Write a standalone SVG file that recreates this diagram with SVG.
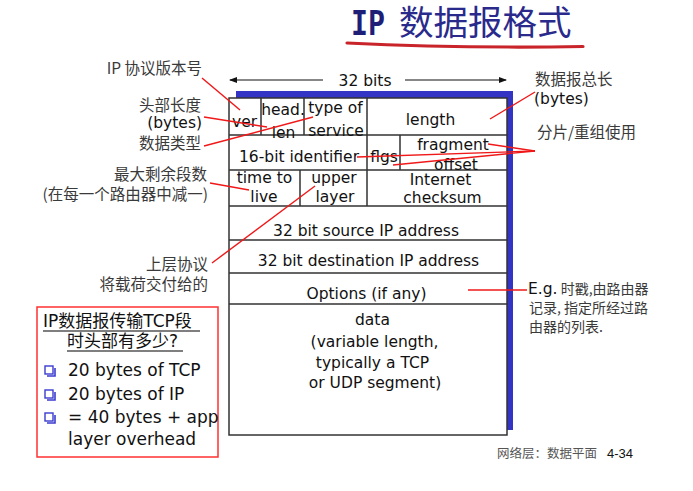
<svg xmlns="http://www.w3.org/2000/svg" width="693" height="491" viewBox="0 0 693 491">
  <style>
    .cell { font-family: "DejaVu Sans", sans-serif; font-size: 15.5px; fill: #111; text-anchor: middle; }
    .lat { font-family: "DejaVu Sans", sans-serif; font-size: 15.5px; fill: #111; }
    .cjk { font-family: "Noto Sans CJK SC", sans-serif; font-size: 15.5px; fill: #3a3a3a; }
    .end { text-anchor: end; }
    .grid { stroke: #333; stroke-width: 1.5; fill: none; }
    .ptr { stroke: #f01818; stroke-width: 1.4; fill: none; }
    .box { font-family: "DejaVu Sans", "Noto Sans CJK SC", sans-serif; font-size: 17px; fill: #111; }
    .bullet { fill: none; stroke: #3b3bd0; stroke-width: 1.4; }
  </style>
  <defs>
    <marker id="arrow" markerWidth="8" markerHeight="8" refX="7" refY="4" orient="auto" markerUnits="userSpaceOnUse">
      <path d="M0,1 L8,4 L0,7 Z" fill="#111"/>
    </marker>
  </defs>

  <rect width="693" height="491" fill="#fff"/>

  <!-- title -->
  <g id="title">
    <text x="351" y="35" font-family="DejaVu Sans Mono, monospace" font-weight="bold" font-size="33" fill="#1e1e78" textLength="34" lengthAdjust="spacingAndGlyphs">IP</text>
    <text x="399" y="35" font-family="Noto Sans CJK SC, sans-serif" font-size="34.5" fill="#2a2a8c">数据报格式</text>
    <path d="M347,43 Q460,48.5 583,46.5" stroke="#c8242a" stroke-width="3.2" fill="none" stroke-linecap="round"/>
  </g>

  <!-- 32 bits width indicator -->
  <g id="width-label">
    <line x1="323" y1="80" x2="230" y2="80" stroke="#111" stroke-width="1.2" marker-end="url(#arrow)"/>
    <line x1="405" y1="80" x2="506" y2="80" stroke="#111" stroke-width="1.2" marker-end="url(#arrow)"/>
    <text class="cell" x="365" y="86">32 bits</text>
  </g>

  <!-- header layout -->
  <g id="header">
    <rect x="236" y="91" width="277" height="339" fill="#3333c4"/>
    <rect x="229" y="98" width="278" height="337" fill="#fff" stroke="#333" stroke-width="1.5"/>
    <path class="grid" d="M229,135 H507 M229,170 H507 M229,206 H507 M229,240 H507 M229,273 H507 M229,304 H507"/>
    <path class="grid" d="M261,98 V135 M304,98 V135 M367,98 V135 M367,135 V170 M400,135 V170 M300,170 V206 M367,170 V206"/>

    <text class="cell" x="244.5" y="127">ver</text>
    <text class="cell" x="283" y="115">head.</text>
    <text class="cell" x="283.5" y="138">len</text>
    <text class="cell" x="335.5" y="113">type of</text>
    <text class="cell" x="336" y="136">service</text>
    <text class="cell" x="430.5" y="125">length</text>

    <text class="cell" x="299" y="162">16-bit identifier</text>
    <text class="cell" x="384" y="162">flgs</text>
    <text class="cell" x="453" y="150">fragment</text>
    <text class="cell" x="456" y="170">offset</text>

    <text class="cell" x="264.5" y="183">time to</text>
    <text class="cell" x="264" y="202">live</text>
    <text class="cell" x="334" y="183">upper</text>
    <text class="cell" x="335" y="202">layer</text>
    <text class="cell" x="440.5" y="185">Internet</text>
    <text class="cell" x="442.5" y="203">checksum</text>

    <text class="cell" x="366" y="236">32 bit source IP address</text>
    <text class="cell" x="368.5" y="266">32 bit destination IP address</text>
    <text class="cell" x="366.5" y="299">Options (if any)</text>

    <text class="cell" x="372.5" y="325">data</text>
    <text class="cell" x="374.5" y="347">(variable length,</text>
    <text class="cell" x="372.5" y="368">typically a TCP</text>
    <text class="cell" x="375" y="388">or UDP segment)</text>
  </g>

  <!-- annotations, left side -->
  <g id="note-version">
    <text class="cjk end" x="202" y="74">IP 协议版本号</text>
  </g>
  <g id="note-header-length">
    <text class="cjk end" x="201" y="111">头部长度</text>
    <text class="lat end" x="202" y="128">(bytes)</text>
  </g>
  <g id="note-tos">
    <text class="cjk end" x="201" y="149">数据类型</text>
  </g>
  <g id="note-ttl">
    <text class="cjk end" x="207" y="180">最大剩余段数</text>
    <text class="cjk end" x="208" y="200">(在每一个路由器中减一)</text>
  </g>
  <g id="note-protocol">
    <text class="cjk end" x="208" y="270">上层协议</text>
    <text class="cjk end" x="208" y="290">将载荷交付给的</text>
  </g>

  <!-- annotations, right side -->
  <g id="note-length">
    <text class="cjk" x="535" y="85">数据报总长</text>
    <text class="lat" x="534" y="104">(bytes)</text>
  </g>
  <g id="note-fragment">
    <text class="cjk" x="537" y="138">分片/重组使用</text>
  </g>
  <g id="note-options">
    <text x="528" y="294"><tspan class="lat" font-size="16">E.g.</tspan><tspan font-family="Noto Sans CJK SC, sans-serif" font-size="14" fill="#3a3a3a"> 时戳,由路由器</tspan></text>
    <text x="529" y="313" font-family="Noto Sans CJK SC, sans-serif" font-size="14" fill="#3a3a3a">记录, 指定所经过路</text>
    <text x="529" y="332" font-family="Noto Sans CJK SC, sans-serif" font-size="14" fill="#3a3a3a">由器的列表.</text>
  </g>

  <!-- pointer lines -->
  <g id="connectors">
    <line class="ptr" x1="202" y1="78" x2="240" y2="110"/>
    <line class="ptr" x1="204" y1="117" x2="267" y2="127"/>
    <line class="ptr" x1="204" y1="146" x2="313" y2="117"/>
    <line class="ptr" x1="210" y1="183" x2="249" y2="190"/>
    <line class="ptr" x1="212" y1="263" x2="315" y2="186"/>
    <line class="ptr" x1="535" y1="92" x2="490" y2="119"/>
    <line class="ptr" x1="535" y1="151" x2="488" y2="144"/>
    <line class="ptr" x1="535" y1="151" x2="357" y2="157"/>
    <line class="ptr" x1="535" y1="151" x2="393" y2="165"/>
    <line class="ptr" x1="468" y1="290" x2="527" y2="290"/>
  </g>

  <!-- overhead question box -->
  <g id="overhead-box">
    <rect x="37" y="307" width="181" height="150" fill="#fff" stroke="#ff3030" stroke-width="1.5"/>
    <text class="box" x="43" y="327" font-size="16">IP数据报传输TCP段</text>
    <line x1="43" y1="331" x2="200" y2="331" stroke="#555" stroke-width="1.4"/>
    <text class="box" x="67" y="347" font-size="16">时头部有多少?</text>
    <line x1="67" y1="351" x2="183" y2="351" stroke="#555" stroke-width="1.4"/>

    <rect class="bullet" x="45" y="366" width="8" height="8"/>
    <path d="M55,368 V376 H47" stroke="#3b3bd0" stroke-width="1.6" fill="none"/>
    <text class="box" x="68" y="376">20 bytes of TCP</text>

    <rect class="bullet" x="45" y="390" width="8" height="8"/>
    <path d="M55,392 V400 H47" stroke="#3b3bd0" stroke-width="1.6" fill="none"/>
    <text class="box" x="68" y="400">20 bytes of IP</text>

    <rect class="bullet" x="45" y="413" width="8" height="8"/>
    <path d="M55,415 V423 H47" stroke="#3b3bd0" stroke-width="1.6" fill="none"/>
    <text class="box" x="68" y="423">= 40 bytes + app</text>
    <text class="box" x="68" y="445">layer overhead</text>
  </g>

  <!-- footer -->
  <g id="footer">
    <text x="497" y="458" font-family="Noto Sans CJK SC, sans-serif" font-size="12.5" fill="#555">网络层：数据平面</text>
    <text x="607" y="458" font-family="Liberation Sans, sans-serif" font-size="13" fill="#111">4-34</text>
  </g>
</svg>
